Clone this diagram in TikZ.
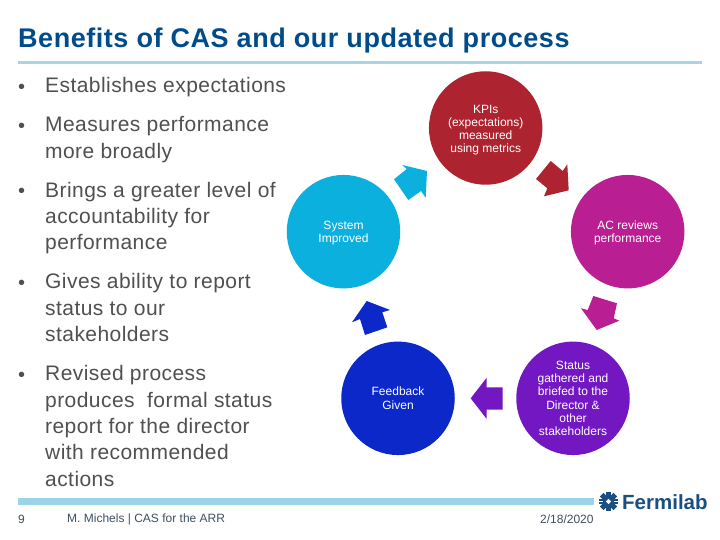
\documentclass[tikz,border=0pt]{standalone}
\usepackage{fontspec}
\setmainfont{Liberation Sans}
\newfontfamily\bodyfont[LetterSpace=2.1]{Liberation Sans}
\newfontfamily\titlefont[LetterSpace=2]{Liberation Sans}
\definecolor{titleblue}{HTML}{004C89}
\definecolor{rulecol}{HTML}{A9D6E5}
\definecolor{barcol}{HTML}{9BD3E8}
\definecolor{bodygrey}{HTML}{505050}
\definecolor{footgrey}{HTML}{3F4F5F}
\definecolor{cCyan}{HTML}{0BB0DE}
\definecolor{cRed}{HTML}{AD2430}
\definecolor{cMag}{HTML}{B91F92}
\definecolor{cPur}{HTML}{7317C2}
\definecolor{cBlue}{HTML}{0C28C8}
\definecolor{logo}{HTML}{1B4F80}
\tikzset{
  x=1pt,y=-1pt,
  titletext/.style={anchor=west,inner sep=0,text=titleblue,font=\titlefont\fontsize{27}{30}\selectfont\bfseries},
  bodytext/.style={anchor=west,inner sep=0,text=bodygrey,align=left,font=\bodyfont\fontsize{21}{26.3}\selectfont},
  bullettext/.style={anchor=base west,inner sep=0,text=bodygrey,font=\fontsize{20}{20}\selectfont},
  circ/.style={circle,minimum size=113.5pt,inner sep=0},
  circtext/.style={inner sep=0,align=center,text=white,font=\fontsize{12}{13.2}\selectfont},
  foot/.style={anchor=west,inner sep=0,text=footgrey,font=\fontsize{12}{14}\selectfont},
}
\begin{document}
\begin{tikzpicture}
\useasboundingbox (0,0) rectangle (720,540);
\fill[white] (0,0) rectangle (720,540);
\node[titletext] (title) at (18,40.5) {Benefits of CAS and our updated process};
\fill[rulecol] (18,61.5) rectangle (702,64.5);
% bullets
\node[bullettext] (b1) at (18,93.5) {•};
\node[bodytext] (t1) at (45,87) {Establishes expectations};
\node[bullettext] (b2) at (18,132.5) {•};
\node[bodytext] (t2) at (45,139.5) {Measures performance\\more broadly};
\node[bullettext] (b3) at (18,197.5) {•};
\node[bodytext] (t3) at (45,218) {Brings a greater level of\\accountability for\\performance};
\node[bullettext] (b4) at (18,289.5) {•};
\node[bodytext] (t4) at (45,307.5) {Gives ability to report\\status to our\\stakeholders};
\node[bullettext] (b5) at (18,381.5) {•};
\node[bodytext] (t5) at (45,426) {Revised process\\produces\ \ formal status\\report for the director\\with recommended\\actions};
% circles
\node[circ,fill=cRed,label={[circtext,yshift=-2pt]center:{KPIs\\(expectations)\\measured\\using metrics}}] (kpi) at (485.7,128) {};
\node[circ,fill=cMag,label={[circtext,yshift=-1pt]center:{AC reviews\\performance}}] (ac) at (627.7,231.7) {};
\node[circ,fill=cPur,label={[circtext]center:{Status\\gathered and\\briefed to the\\Director \&\\other\\stakeholders}}] (st) at (573,398.3) {};
\node[circ,fill=cBlue,label={[circtext]center:{Feedback\\Given}}] (fb) at (398,398.3) {};
\node[circ,fill=cCyan,label={[circtext,yshift=-1pt]center:{System\\Improved}}] (sys) at (343.5,231.7) {};
% block arrows
\fill[cCyan] (402.3,165)--(427,171)--(425.7,197.7)--(421,191)--(408.3,200)--(394,179.3)--(406.7,169)--cycle;
\fill[cRed] (550.7,161)--(536,179)--(547.3,188.3)--(544,196.3)--(568.7,190.3)--(567.3,164.3)--(562.7,171)--cycle;
\fill[cMag] (593.3,296)--(617,303.3)--(613.7,318.3)--(619.3,320.7)--(596.7,330)--(581,308.3)--(587.7,310)--cycle;
\fill[cPur] (502.7,387.3)--(502.7,409.7)--(486.7,409.7)--(486.7,419)--(470.7,398.3)--(486.7,377.7)--(486.7,387.3)--cycle;
\fill[cBlue] (387.3,327.3)--(365,335)--(360,319)--(352,322.3)--(366.7,301)--(390,310)--(382.3,312.3)--cycle;
% footer
\fill[barcol] (18,498) rectangle (594,505);
\node[foot] (n) at (18,519.5) {9};
\node[foot] (m) at (67,519.5) {M. Michels | CAS for the ARR};
\node[foot] (d) at (540,519.5) {2/18/2020};
% logo
\foreach \a in {0,45,...,315}{\fill[logo,rotate around={\a:(608.5,501.5)}] (606,491.8) rectangle (611,497);}
\fill[logo] (608.5,501.5) circle (6.8);
\fill[white] (608.5,498.8)--(611.2,501.5)--(608.5,504.2)--(605.8,501.5)--cycle;
\fill[white] (598,500.8) rectangle (602.8,502.2);
\fill[white] (614.2,500.8) rectangle (619,502.2);
\node[anchor=west,inner sep=0,text=logo,font=\fontsize{20.5}{24}\selectfont\bfseries] (fl) at (622,502) {Fermilab};
\end{tikzpicture}
\end{document}
